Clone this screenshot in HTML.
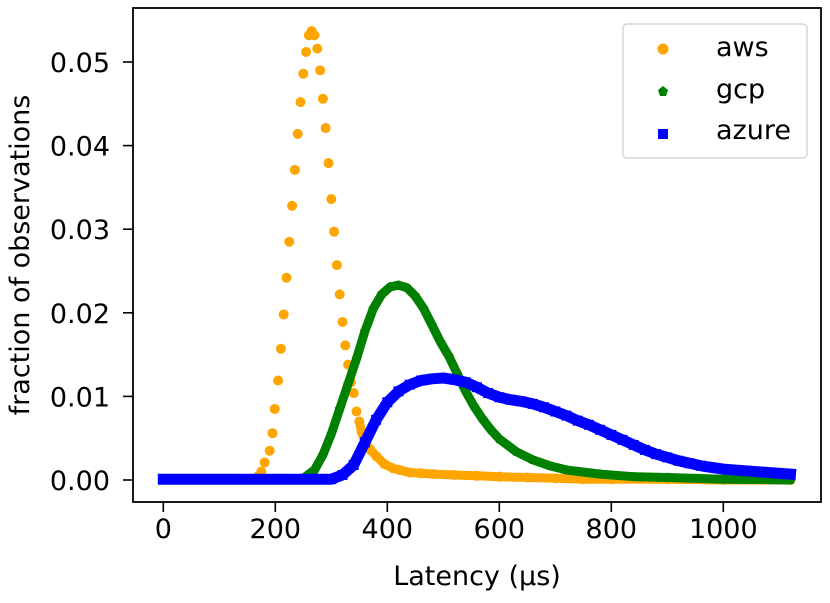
<!DOCTYPE html>
<html><head><meta charset="utf-8"><style>
body{margin:0;background:#fff;}
svg text{font-family:"DejaVu Sans","Liberation Sans",sans-serif;fill:#000;}
</style></head><body>
<svg id="chart" width="830" height="598" xmlns="http://www.w3.org/2000/svg">
<g id="series"></g>
<g id="axes"></g>
<text x="477" y="585" text-anchor="middle" font-size="27">Latency (µs)</text>
<text transform="translate(29,255) rotate(-90)" text-anchor="middle" font-size="27">fraction of observations</text>
<g>
<rect x="623" y="24" width="184" height="134" rx="4" fill="#fff" fill-opacity="0.8" stroke="#d6d6d6" stroke-width="1.5"/>
<circle cx="663" cy="49" r="5.5" fill="orange"/>
<text x="716" y="56" font-size="27">aws</text>
<polygon points="663,86 668,90 666,96 660,96 658,90" fill="green"/>
<text x="716" y="98" font-size="27">gcp</text>
<rect x="658" y="129" width="10" height="10" fill="blue"/>
<text x="716" y="139" font-size="27">azure</text>
</g>
</svg>
<script>
const awsX=[0,50,100,150,165,170,175,181,190,195,199,205,210,215,220,225,230,235,240,245,250,255,260,265,270,275,280,285,290,295,300,305,310,315,320,325,330,335,340,345,350,354,360,370,381,395,410,422,440,460,482,520,560,600,650,700,750,800,900,1000,1120];
const awsY=[0,0,0,0,0.0002,0.0005,0.001,0.0021,0.0035,0.0056,0.0085,0.0119,0.0157,0.0198,0.0242,0.0285,0.0328,0.0371,0.0414,0.0452,0.0486,0.0512,0.0532,0.0537,0.0532,0.0516,0.049,0.0456,0.0421,0.0379,0.0336,0.0297,0.0257,0.0222,0.0189,0.0161,0.0138,0.0117,0.0104,0.0082,0.007,0.0058,0.0046,0.0036,0.0028,0.0019,0.0014,0.0012,0.0009,0.0008,0.0007,0.0006,0.0005,0.0004,0.0003,0.0002,0.0001,0.0001,0.0001,0,0];
const gcpX=[0,100,200,250,270,285,300,315,330,345,360,375,390,405,420,435,450,465,480,495,510,525,540,555,570,585,600,630,660,690,720,780,840,900,1000,1120];
const gcpY=[0,0,0,0.0002,0.0012,0.003,0.0055,0.0085,0.0115,0.0145,0.0178,0.0205,0.0222,0.0231,0.0233,0.023,0.022,0.0205,0.0185,0.0165,0.0148,0.0127,0.0106,0.0088,0.0073,0.006,0.0049,0.0034,0.0024,0.0017,0.0012,0.0007,0.0004,0.0003,0.0001,0];
const azX=[0,100,200,300,320,340,360,380,400,420,440,460,480,500,520,540,560,580,600,620,640,660,680,700,720,740,760,780,800,820,840,860,880,900,920,940,960,980,1000,1040,1080,1120];
const azY=[0.0001,0.0001,0.0001,0.0001,0.0006,0.0018,0.0045,0.0072,0.0093,0.0106,0.0114,0.0119,0.0121,0.0122,0.012,0.0117,0.0111,0.0104,0.0099,0.0096,0.0094,0.0091,0.0087,0.0082,0.0077,0.0071,0.0066,0.006,0.0054,0.0048,0.0042,0.0036,0.0031,0.0027,0.0023,0.002,0.0017,0.0015,0.0013,0.0011,0.0009,0.0007];
const xTicks=[0,200,400,600,800,1000];
const yTicks=[0,0.01,0.02,0.03,0.04,0.05];
const yTickLabels=["0.00","0.01","0.02","0.03","0.04","0.05"];
const NS="http://www.w3.org/2000/svg";
const L=133,R=821,T=8,B=502;
const sx=v=>163.3+v*0.56;
const sy=v=>480-v*8360;
const S=document.getElementById('series'),A=document.getElementById('axes');
function mk(tag,attrs,parent){const e=document.createElementNS(NS,tag);for(const k in attrs)e.setAttribute(k,attrs[k]);parent.appendChild(e);return e;}
function pts(xs,ys,min){const p=[];for(let i=0;i<xs.length;i++){if(xs[i]>=min)p.push(sx(xs[i]).toFixed(1)+','+sy(ys[i]).toFixed(1));}return p.join(' ');}
function pent(cx,cy,r){const p=[];for(let k=0;k<5;k++){const a=-Math.PI/2+k*2*Math.PI/5;p.push((cx+r*Math.cos(a)).toFixed(1)+','+(cy+r*Math.sin(a)).toFixed(1));}return p.join(' ');}
// aws
let g=mk('g',{},S);


let pl=mk('polyline',{points:pts(awsX,awsY,350),fill:'none',stroke:'orange','stroke-width':9,'stroke-linejoin':'round','stroke-linecap':'round'},g);


for(let i=0;i<awsX.length;i++){const c=mk('circle',{cx:sx(awsX[i]),cy:sy(awsY[i]),r:5,fill:'orange'},g);

}
// gcp
g=mk('g',{},S);


pl=mk('polyline',{points:pts(gcpX,gcpY,0),fill:'none',stroke:'green','stroke-width':9,'stroke-linejoin':'round','stroke-linecap':'round'},g);


for(let i=0;i<gcpX.length;i++){const c=mk('polygon',{points:pent(sx(gcpX[i]),sy(gcpY[i]),5),fill:'green'},g);

}
// azure
g=mk('g',{},S);


pl=mk('polyline',{points:pts(azX,azY,0),fill:'none',stroke:'blue','stroke-width':11,'stroke-linejoin':'round','stroke-linecap':'square'},g);


for(let i=0;i<azX.length;i++){const c=mk('rect',{x:sx(azX[i])-5,y:sy(azY[i])-5,width:10,height:10,fill:'blue'},g);

}
// axes
const fr=mk('rect',{x:L,y:T,width:R-L,height:B-T,fill:'none',stroke:'#000','stroke-width':1.8},A);


xTicks.forEach(v=>{const x=sx(v);mk('line',{x1:x,y1:B,x2:x,y2:B+10,stroke:'#000','stroke-width':1.6},A);
const t=mk('text',{x:x,y:B+36,'text-anchor':'middle','font-size':27},A);t.textContent=String(v);

});
yTicks.forEach((v,i)=>{const y=sy(v);mk('line',{x1:L-10,y1:y,x2:L,y2:y,stroke:'#000','stroke-width':1.6},A);
const t=mk('text',{x:L-23,y:y+10,'text-anchor':'end','font-size':27},A);t.textContent=yTickLabels[i];

});
</script>
</body></html>
